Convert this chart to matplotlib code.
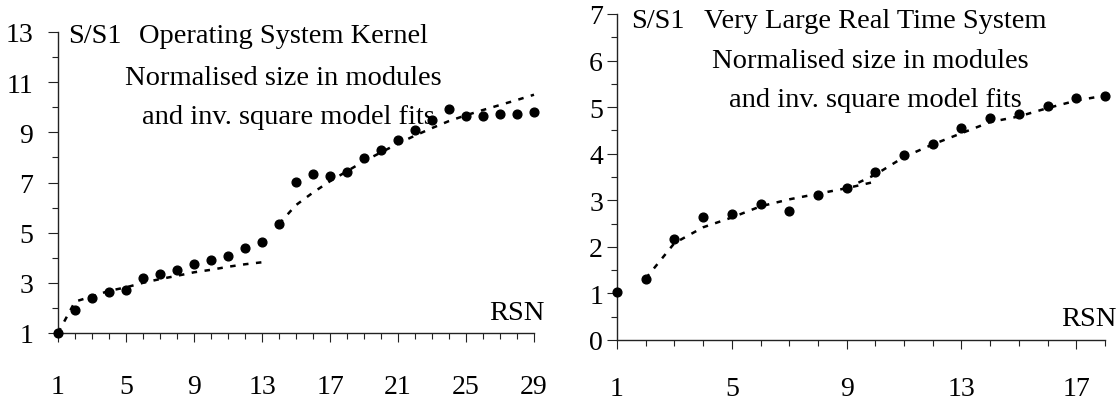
import matplotlib
matplotlib.use("Agg")
import matplotlib.pyplot as plt
from matplotlib.ticker import FixedLocator

plt.rcParams['font.family'] = ['Liberation Serif', 'DejaVu Serif']

# ---- Left panel: Operating System Kernel ----
rsn_a = list(range(1, 30))
size_a = [1.0, 1.9, 2.4, 2.63, 2.7, 3.19, 3.34, 3.52, 3.76, 3.9, 4.06, 4.39, 4.62,
          5.35, 7.03, 7.34, 7.25, 7.43, 7.96, 8.3, 8.68, 9.08, 9.5, 9.92, 9.66, 9.66,
          9.75, 9.75, 9.82]
fit1_a_x = list(range(1, 14))
fit1_a_y = [1.0, 2.25, 2.46, 2.68, 2.82, 3.0, 3.15, 3.28, 3.42, 3.52, 3.64, 3.74, 3.82]
fit2_a_x = list(range(14, 30))
fit2_a_y = [5.35, 6.1, 6.6, 7.05, 7.45, 7.85, 8.2, 8.55, 8.87, 9.17, 9.45, 9.68,
            9.89, 10.09, 10.29, 10.5]
xticks_a = [1, 5, 9, 13, 17, 21, 25, 29]
yticks_a = [1, 3, 5, 7, 9, 11, 13]

# ---- Right panel: Very Large Real Time System ----
rsn_b = list(range(1, 19))
size_b = [1.02, 1.32, 2.17, 2.65, 2.7, 2.91, 2.78, 3.12, 3.26, 3.6, 3.98, 4.2, 4.55,
          4.77, 4.86, 5.02, 5.19, 5.25]
fit1_b_x = list(range(2, 11))
fit1_b_y = [1.32, 2.08, 2.42, 2.63, 2.87, 3.02, 3.14, 3.26, 3.4]
fit2_b_x = list(range(9, 19))
fit2_b_y = [3.26, 3.55, 3.93, 4.2, 4.44, 4.68, 4.8, 4.98, 5.14, 5.25]
xticks_b = [1, 5, 9, 13, 17]
yticks_b = [0, 1, 2, 3, 4, 5, 6, 7]

W, H = 1120, 402
fig = plt.figure(figsize=(W / 100, H / 100), dpi=100)

def fx(px):
    return px / W

def fy(py):
    return 1 - py / H

TICKFS = 20
TEXTFS = 20.5
LS = (0, (2.2, 3.0))

def style_axes(ax, xlim, ylim, xmaj, xmin, ymaj, ymin, xpad, ypad):
    ax.set_xlim(*xlim)
    ax.set_ylim(*ylim)
    for s in ('top', 'right'):
        ax.spines[s].set_visible(False)
    for s in ('left', 'bottom'):
        ax.spines[s].set_linewidth(1.0)
        ax.spines[s].set_color('#222222')
    ax.xaxis.set_major_locator(FixedLocator(xmaj))
    ax.xaxis.set_minor_locator(FixedLocator(xmin))
    ax.yaxis.set_major_locator(FixedLocator(ymaj))
    ax.yaxis.set_minor_locator(FixedLocator(ymin))
    ax.tick_params(axis='x', which='major', direction='out', length=6.5, width=0.8,
                   labelsize=TICKFS, pad=xpad, color='#222222')
    ax.tick_params(axis='x', which='minor', direction='out', length=4.3, width=0.8,
                   color='#222222')
    ax.tick_params(axis='y', which='major', direction='out', length=7.5, width=0.8,
                   labelsize=TICKFS, pad=ypad, color='#222222')
    ax.tick_params(axis='y', which='minor', direction='out', length=4.5, width=0.8,
                   color='#222222')

# Left axes
axA = fig.add_axes([fx(58), fy(334), fx(534) - fx(58), fy(33) - fy(334)])
style_axes(axA, (1, 29), (1, 13), xticks_a, rsn_a, yticks_a, list(range(1, 14)),
           xpad=23, ypad=10.5)
axA.plot(fit1_a_x, fit1_a_y, color='black', lw=1.8, linestyle=LS, clip_on=False)
axA.plot(fit2_a_x, fit2_a_y, color='black', lw=1.8, linestyle=LS, clip_on=False)
axA.plot(rsn_a, size_a, 'o', color='black', ms=6.3, clip_on=False, zorder=5)

# Right axes
axB = fig.add_axes([fx(617), fy(341), fx(1105) - fx(617), fy(15) - fy(341)])
yminor_b = [v / 2 for v in range(0, 15)]
style_axes(axB, (1, 18), (0, 7), xticks_b, rsn_b, yticks_b, yminor_b,
           xpad=19.5, ypad=2.5)
axB.plot(fit1_b_x, fit1_b_y, color='black', lw=1.8, linestyle=LS, clip_on=False)
axB.plot(fit2_b_x, fit2_b_y, color='black', lw=1.8, linestyle=LS, clip_on=False)
axB.plot(rsn_b, size_b, 'o', color='black', ms=6.3, clip_on=False, zorder=5)

# Annotations (left)
fig.text(fx(68), fy(43), 'S/S1', fontsize=TEXTFS, ha='left', va='baseline')
fig.text(fx(283.5), fy(43), 'Operating System Kernel', fontsize=TEXTFS, ha='center', va='baseline')
fig.text(fx(283.5), fy(85), 'Normalised size in modules', fontsize=TEXTFS, ha='center', va='baseline')
fig.text(fx(288.5), fy(124), 'and inv. square model fits', fontsize=TEXTFS, ha='center', va='baseline')
fig.text(fx(545), fy(320), 'RSN', fontsize=TEXTFS, ha='right', va='baseline')

# Annotations (right)
fig.text(fx(631), fy(28), 'S/S1', fontsize=TEXTFS, ha='left', va='baseline')
fig.text(fx(875.5), fy(28), 'Very Large Real Time System', fontsize=TEXTFS, ha='center', va='baseline')
fig.text(fx(870), fy(68), 'Normalised size in modules', fontsize=TEXTFS, ha='center', va='baseline')
fig.text(fx(875), fy(107), 'and inv. square model fits', fontsize=TEXTFS, ha='center', va='baseline')
fig.text(fx(1117), fy(326), 'RSN', fontsize=TEXTFS, ha='right', va='baseline')

fig.savefig('out.png', dpi=100)
